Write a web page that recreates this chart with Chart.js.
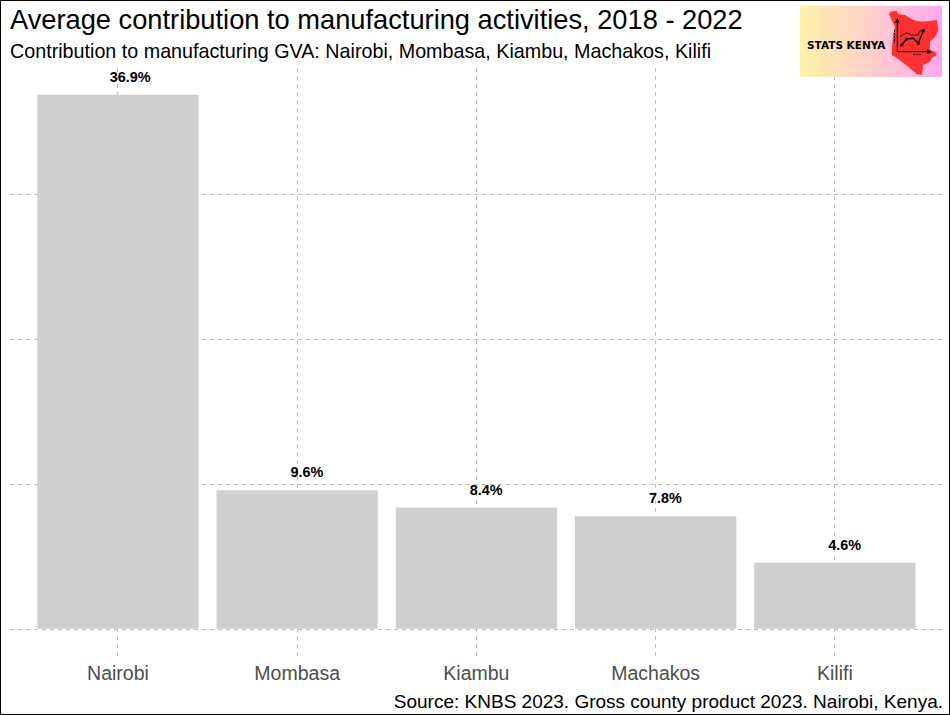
<!DOCTYPE html>
<html><head><meta charset="utf-8">
<style>
html,body{margin:0;padding:0;background:#fff;width:950px;height:715px;overflow:hidden}
#wrap{position:relative;width:950px;height:715px}
#c{position:absolute;left:0;top:0}
#frame{position:absolute;left:0;top:0;width:948px;height:713px;border:1px solid #000;pointer-events:none}
#logo{position:absolute;left:800px;top:6px;width:142px;height:71px;background:linear-gradient(90deg,#fff3a8,#ffa8f0)}
#logo span{position:absolute;left:7px;top:33px;font:bold 10.5px "DejaVu Sans";color:#000;white-space:nowrap}
#logo svg{position:absolute;left:0;top:0}
</style>
<script src="https://cdn.jsdelivr.net/npm/chart.js@4"></script>
</head><body>
<div id="wrap">
<canvas id="c" width="950" height="715" style="width:950px;height:715px"></canvas>
<div id="logo"><span>STATS KENYA</span>
<svg width="142" height="71" viewBox="0 0 142 71">
<path fill="#ff3030" d="M90 5.7 L96.7 5 L98.3 8 L105 9 L113.3 14 L121.7 15.7 L130 15 L136.7 14 L138.3 24 L135 30.7 L130 35.7 L130 44 L135 45.7 L136.7 49 L131.7 52.3 L130 55.7 L123.3 59 L121.7 69 L116.7 68 L108.3 60.7 L101.7 55.7 L95 50.7 L91.7 49 L92.3 37.3 L93.3 27.3 L95 20.7 L91.7 14 L89.3 9 Z"/>
<path fill="none" stroke="#000" stroke-width="1" d="M97.3 14 V45.7 H130"/>
<path fill="#000" d="M95 17 L97.3 12 L99.6 17 Z M127 43.4 L132 45.7 L127 48 Z"/>
<path fill="none" stroke="#000" stroke-width="1.4" d="M101.7 39 L106.7 33 L113.3 32.3 L118.3 37.3 L123.3 24.7"/>
<path fill="none" stroke="#000" stroke-width="0.7" d="M100 30.7 L106.7 26.7 L111.7 29 L118.3 29 L120 24.7 L124.3 25.7"/>
<g fill="#000"><circle cx="101.7" cy="39" r="1.6"/><circle cx="106.7" cy="33" r="1.6"/><circle cx="118.3" cy="37.3" r="1.6"/><circle cx="123.3" cy="24.7" r="1.8"/></g>
<path fill="none" stroke="#000" stroke-width="1" stroke-dasharray="2 1" d="M94.5 24 V37 M113 48.5 H122"/>
</svg></div>
<div id="frame"></div>
</div>
<script>
const categories = ["Nairobi","Mombasa","Kiambu","Machakos","Kilifi"];
const shares = [36.9,9.6,8.4,7.8,4.6];
const shareLabels = ["36.9%","9.6%","8.4%","7.8%","4.6%"];
const positions = [1,2,3,4,5];
const yTicks = [0,10,20,30];
const titleText = "Average contribution to manufacturing activities, 2018 - 2022";
const subtitleText = "Contribution to manufacturing GVA: Nairobi, Mombasa, Kiambu, Machakos, Kilifi";
const sourceText = "Source: KNBS 2023. Gross county product 2023. Nairobi, Kenya.";

const canvas = document.getElementById('c');
canvas.getContext('2d',{alpha:false});
const FONT = '"Liberation Sans"';

const paint = {
  id:'paint',
  beforeDraw(ch){const g=ch.ctx;g.save();g.fillStyle='#fff';g.fillRect(0,0,950,715);g.restore();},
  afterDraw(ch){
    const g=ch.ctx,meta=ch.getDatasetMeta(0);
    g.save();
    g.fillStyle='#000';g.textAlign='center';g.textBaseline='alphabetic';
    g.font='bold 14.4px '+FONT;
    meta.data.forEach((b,i)=>{
      const w=g.measureText(shareLabels[i]).width;
      g.fillText(shareLabels[i],b.x+w*0.3,b.y-13);
    });
    g.textAlign='left';
    g.font='27.25px '+FONT;g.fillText(titleText,10,29);
    g.font='19.73px '+FONT;g.fillText(subtitleText,10,58);
    g.textAlign='right';
    g.font='19px '+FONT;g.fillText(sourceText,943,708);
    g.restore();
  }
};

new Chart(canvas,{
  type:'bar',
  data:{datasets:[{
    data:positions.map((x,i)=>({x,y:shares[i]})),
    backgroundColor:'#cfcfcf',borderWidth:0,
    barPercentage:0.9,categoryPercentage:1
  }]},
  options:{
    responsive:false,animation:false,devicePixelRatio:1,
    layout:{padding:{left:10.4,right:7.6,top:68,bottom:0}},
    plugins:{legend:{display:false},tooltip:{enabled:false},title:{display:false}},
    scales:{
      x:{type:'linear',min:0.4,max:5.6,offset:false,
        afterBuildTicks(a){a.ticks=positions.map(v=>({value:v}));},
        afterFit(a){a.height=59;},
        border:{display:false,dash:[4,4]},
        grid:{offset:false,color:'#bebebe',lineWidth:1,drawTicks:false},
        ticks:{display:true,autoSkip:false,maxRotation:0,minRotation:0,padding:7,
          color:'#4d4d4d',font:{family:'Liberation Sans',size:19.5},
          callback:v=>categories[v-1]}
      },
      y:{type:'linear',min:-1.845,max:38.745,
        afterBuildTicks(a){a.ticks=yTicks.map(v=>({value:v}));},
        afterFit(a){a.width=0;},
        border:{display:false,dash:[4,4]},
        grid:{color:'#bebebe',lineWidth:1,drawTicks:false},
        ticks:{display:false}
      }
    }
  },
  plugins:[paint]
});
</script>
</body></html>
